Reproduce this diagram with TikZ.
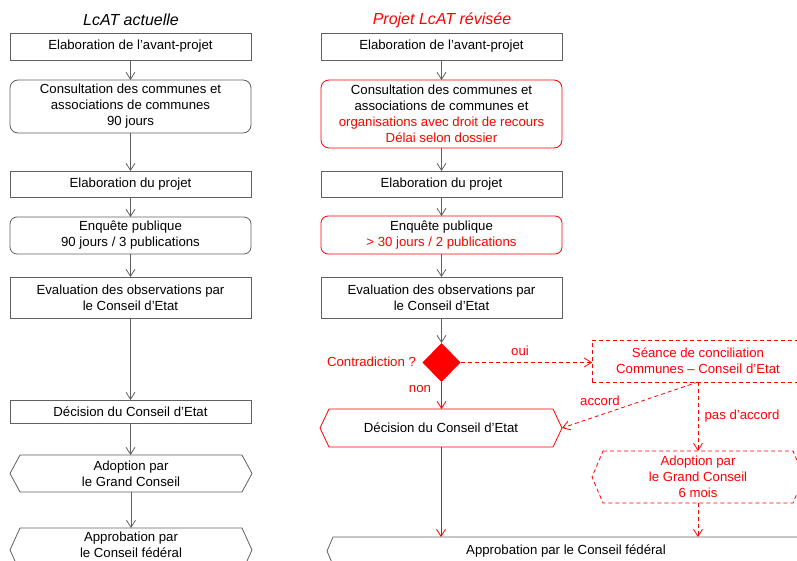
\documentclass[tikz,border=0pt]{standalone}
\usepackage{fontspec}
\setmainfont{Liberation Sans}
\usetikzlibrary{arrows.meta,shapes.geometric}
\definecolor{lgray}{HTML}{606060}
\definecolor{myred}{HTML}{FF0000}
\newcommand\hexpath[3]{%
  \draw[#3] ([xshift=#2]#1.north west) -- ([xshift=-#2]#1.north east) -- (#1.east)
    -- ([xshift=-#2]#1.south east) -- ([xshift=#2]#1.south west) -- (#1.west) -- cycle;}
\begin{document}
\begin{tikzpicture}[x=1pt,y=-1pt,
  font=\fontsize{13.2}{16}\selectfont,
  box/.style={draw=lgray, line width=0.8pt, minimum width=241pt, inner sep=0pt, outer sep=0pt, align=center, text=black},
  rbox/.style={box, rounded corners=8pt},
  redrbox/.style={rbox, draw=myred},
  hexnode/.style={inner sep=0pt, outer sep=0pt, align=center},
  title/.style={font=\fontsize{16}{19}\selectfont\itshape},
  lbl/.style={text=myred, inner sep=0pt},
  tip/.style={-{Straight Barb[length=7pt,width=9pt]}},
  arr/.style={draw=lgray, line width=0.8pt, tip},
  rarr/.style={draw=myred, line width=0.8pt, tip},
  rdarr/.style={rarr, dash pattern=on 4pt off 3pt},
]
\useasboundingbox (0,0) rectangle (797,561);
\clip (0,0) rectangle (797,561);

% ---------------- left column ----------------
\node[title] (T1) at (131,20) {LcAT actuelle};
\node[box, minimum height=27pt] (E1) at (130.5,46.5) {Elaboration de l’avant-projet};
\node[rbox, minimum height=53pt] (C1) at (130.5,106.5) {Consultation des communes et\\associations de communes\\90 jours};
\node[box, minimum height=26pt] (P1) at (130.5,184) {Elaboration du projet};
\node[rbox, minimum height=37pt, rounded corners=7pt] (Q1) at (130.5,235.5) {Enquête publique\\90 jours / 3 publications};
\node[box, minimum height=41pt] (V1) at (130.5,297.5) {Evaluation des observations par\\le Conseil d’Etat};
\node[box, minimum height=23pt] (D1) at (130.5,411.5) {Décision du Conseil d’Etat};
\node[hexnode, minimum width=242pt, minimum height=37pt] (A1) at (131,473.5) {Adoption par\\le Grand Conseil};
\hexpath{A1}{10pt}{draw=lgray, line width=0.8pt}
\node[hexnode, minimum width=242pt, minimum height=44pt] (R1) at (131,550) {};
\hexpath{R1}{10pt}{draw=lgray, line width=0.8pt}
\node[hexnode] (R1t) at (131,544.5) {Approbation par\\le Conseil fédéral};

\draw[arr] (E1) -- (C1);
\draw[arr] (C1) -- (P1);
\draw[arr] (P1) -- (Q1);
\draw[arr] (Q1) -- (V1);
\draw[arr] (V1) -- (D1);
\draw[arr] (D1.south) -- (D1.south |- A1.north);
\draw[arr] (A1.south) -- (A1.south |- R1.north);

% ---------------- right column ----------------
\node[title, text=myred] (T2) at (442,20) {Projet LcAT révisée};
\node[box, minimum height=27pt] (E2) at (441.5,46.5) {Elaboration de l’avant-projet};
\node[redrbox, minimum height=68pt] (C2) at (441.5,114) {Consultation des communes et\\associations de communes et\\\textcolor{myred}{organisations avec droit de recours}\\\textcolor{myred}{Délai selon dossier}};
\node[box, minimum height=26pt] (P2) at (441.5,184) {Elaboration du projet};
\node[redrbox, minimum height=38pt, rounded corners=7pt] (Q2) at (441.5,235) {Enquête publique\\\textcolor{myred}{> 30 jours / 2 publications}};
\node[box, minimum height=41pt] (V2) at (441.5,297.5) {Evaluation des observations par\\le Conseil d’Etat};
\node[diamond, fill=myred, draw=none, minimum width=38pt, minimum height=39pt, inner sep=0pt, outer sep=0pt] (K) at (441.5,362.5) {};
\node[lbl] (Kl) at (371.5,362) {Contradiction ?};
\node[box, draw=myred, dash pattern=on 4pt off 3pt, minimum width=212pt, minimum height=42pt, text=myred] (S) at (698,361) {Séance de conciliation\\Communes – Conseil d’Etat};
\node[hexnode, minimum width=242pt, minimum height=38pt] (D2) at (441,428) {Décision du Conseil d’Etat};
\hexpath{D2}{9pt}{draw=myred, line width=0.8pt}
\node[hexnode, minimum width=212pt, minimum height=52pt, text=myred] (A2) at (698,477) {Adoption par\\le Grand Conseil\\6 mois};
\hexpath{A2}{11pt}{draw=myred, line width=0.8pt, dash pattern=on 4pt off 3pt}
\node[hexnode, minimum width=478pt, minimum height=28pt] (R2) at (566,551) {Approbation par le Conseil fédéral};
\hexpath{R2}{6pt}{draw=lgray, line width=0.8pt}

\draw[arr] (E2) -- (C2);
\draw[arr] (C2) -- (P2);
\draw[arr] (P2) -- (Q2);
\draw[arr] (Q2) -- (V2);
\draw[arr] (V2.south) -- (K.north);
\draw[rarr] (K.south) -- (K.south |- D2.north);
\node[lbl] (non) at (420,389) {non};
\draw[rdarr] (K.east) -- (K.east -| S.west);
\node[lbl] (oui) at (520,351) {oui};
\draw[rdarr] (S.south) -- (D2.east);
\node[lbl] (acc) at (600,401) {accord};
\draw[rdarr] (S.south) -- (A2.north);
\node[lbl] (pacc) at (742,416) {pas d’accord};
\draw[rdarr] (A2.south) -- (A2.south |- R2.north);
\draw[rarr] (D2.south) -- (D2.south |- R2.north);
\end{tikzpicture}
\end{document}
